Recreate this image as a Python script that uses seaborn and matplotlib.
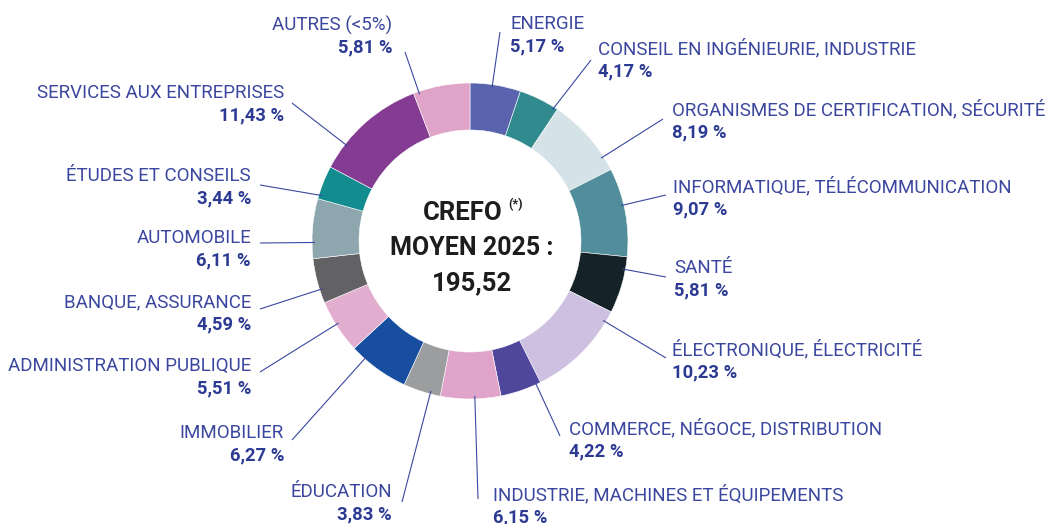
import numpy as np
import matplotlib
matplotlib.use("Agg")
import matplotlib.pyplot as plt
import seaborn as sns

# --- données ---
secteurs = [
    "ENERGIE", "CONSEIL EN INGÉNIEURIE, INDUSTRIE", "ORGANISMES DE CERTIFICATION, SÉCURITÉ",
    "INFORMATIQUE, TÉLÉCOMMUNICATION", "SANTÉ", "ÉLECTRONIQUE, ÉLECTRICITÉ",
    "COMMERCE, NÉGOCE, DISTRIBUTION", "INDUSTRIE, MACHINES ET ÉQUIPEMENTS", "ÉDUCATION",
    "IMMOBILIER", "ADMINISTRATION PUBLIQUE", "BANQUE, ASSURANCE", "AUTOMOBILE",
    "ÉTUDES ET CONSEILS", "SERVICES AUX ENTREPRISES", "AUTRES (<5%)",
]
parts = [5.17, 4.17, 8.19, 9.07, 5.81, 10.23, 4.22, 6.15, 3.83, 6.27, 5.51, 4.59, 6.11, 3.44, 11.43, 5.81]
couleurs = [
    "#5a64ae", "#318b8e", "#d5e3e8", "#518d9b", "#152228", "#cdc0e0", "#4f479c", "#e0a3c9",
    "#9c9d9f", "#174ea0", "#e1aed0", "#626264", "#8ea6ad", "#128c8e", "#843c92", "#e0a4c8",
]
crefo_moyen = "195,52"

# --- mise en page (pixels, origine en haut) ---
W, H = 1048, 524
cx, cy, R, largeur = 470, 241, 158, 47
# (x du texte, y du nom, alignement, départ du trait)
etiquettes = [
    (510, 24, "left", (500, 32)),
    (598, 49, "left", (591, 60)),
    (672, 110, "left", (663, 119)),
    (673, 187, "left", (666, 195)),
    (674, 268, "left", (666, 277)),
    (672, 350, "left", (666, 358)),
    (569, 429, "left", (560, 436)),
    (493, 495, "left", (478, 499)),
    (392, 492, "right", (402, 502)),
    (284, 433, "right", (292, 440)),
    (251, 366, "right", (260, 372)),
    (251, 302, "right", (260, 309)),
    (251, 238, "right", (260, 243)),
    (251, 176, "right", (260, 185)),
    (284, 93, "right", (292, 103)),
    (392, 25, "right", (405, 52)),
]

sns.set_theme(style="white")
plt.rcParams["font.family"] = ["Roboto", "DejaVu Sans"]

fig = plt.figure(figsize=(W / 100, H / 100), dpi=100)
ax = fig.add_axes([0, 0, 1, 1])

def Y(y):
    return H - y

ax.pie(parts, colors=couleurs, startangle=90, counterclock=False,
       center=(cx, Y(cy)), radius=R,
       wedgeprops=dict(width=largeur, edgecolor="white", linewidth=0.4))
ax.set_xlim(0, W)
ax.set_ylim(0, H)
ax.set_aspect("equal")
ax.axis("off")

# angles des secteurs (sens horaire depuis le haut)
cum = np.concatenate([[0], np.cumsum(parts)]) / sum(parts) * 360
coul_nom = "#3b479e"
coul_pct = "#2c3a93"
coul_trait = "#3a48a0"

for i, (nom, val) in enumerate(zip(secteurs, parts)):
    tx, ty, ha, (sx, sy) = etiquettes[i]
    a = np.degrees(np.arctan2(sx - cx, Y(sy) - Y(cy))) % 360
    a0, a1 = cum[i] + 1.5, cum[i + 1] - 1.5
    a = min(max(a, a0), a1)
    r = R - 3
    ex = cx + r * np.sin(np.radians(a))
    ey = Y(cy) + r * np.cos(np.radians(a))
    ax.plot([sx, ex], [Y(sy), ey], color=coul_trait, lw=0.8, solid_capstyle="butt")
    ax.text(tx, Y(ty), nom, ha=ha, va="center", fontsize=13.5, color=coul_nom)
    pct = f"{val:.2f}".replace(".", ",") + " %"
    ax.text(tx, Y(ty + 22), pct, ha=ha, va="center", fontsize=13.2,
            fontweight="bold", color=coul_pct)

# texte central
ax.text(503, Y(213), "CREFO", ha="right", va="center", fontsize=18.5,
        fontweight="bold", color="#1d1d1f")
ax.text(508, Y(205), "(*)", ha="left", va="center", fontsize=9,
        fontweight="bold", color="#1d1d1f")
ax.text(cx + 2, Y(248), "MOYEN 2025 :", ha="center", va="center", fontsize=18,
        fontweight="bold", color="#1d1d1f")
ax.text(cx + 2, Y(283), crefo_moyen, ha="center", va="center", fontsize=18.5,
        fontweight="bold", color="#1d1d1f")

fig.savefig("out.png", dpi=100, facecolor="white")
